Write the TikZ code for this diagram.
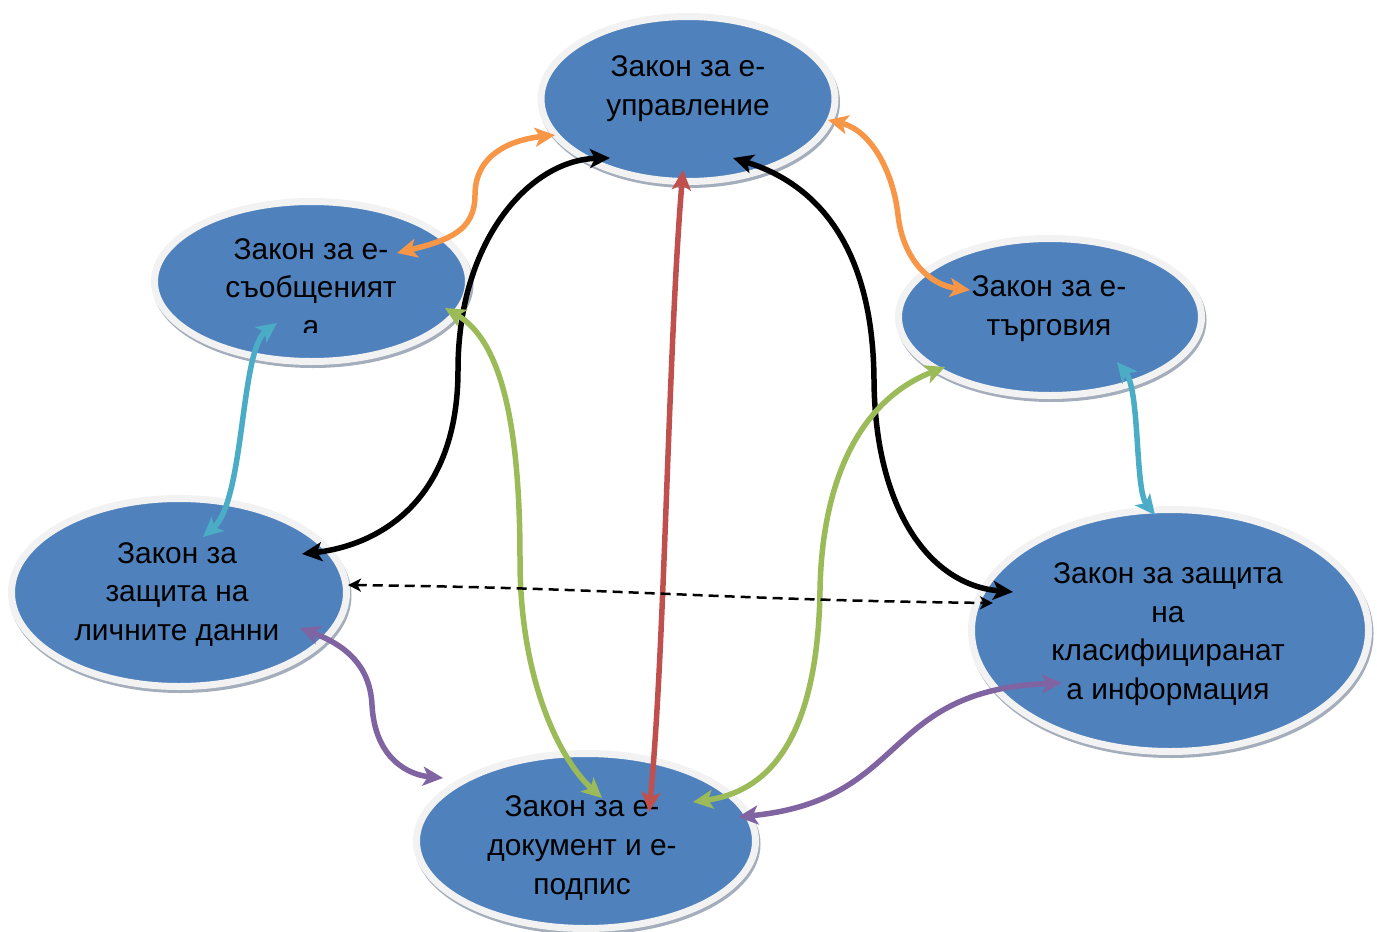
\documentclass[tikz,border=0pt]{standalone}
\usepackage{fontspec}
\setmainfont{Liberation Sans}
\usetikzlibrary{arrows.meta,shapes.geometric,shadows,calc}
\definecolor{lawblue}{HTML}{4F81BD}
\definecolor{rimgray}{HTML}{F2F2F2}
\definecolor{rimshadow}{HTML}{A3ADBB}
\definecolor{linkorange}{HTML}{F79646}
\definecolor{linkred}{HTML}{C0504D}
\definecolor{linkgreen}{HTML}{9BBB59}
\definecolor{linkcyan}{HTML}{4BACC6}
\definecolor{linkpurple}{HTML}{8064A2}
\begin{document}
\begin{tikzpicture}[x=0.2mm,y=-0.2mm,
  law/.style={ellipse,inner sep=0pt,fill=lawblue,draw=rimgray,line width=1.4mm,
    drop shadow={shadow xshift=0.3mm,shadow yshift=-0.6mm,fill=rimshadow,draw=rimshadow,line width=1.4mm,opacity=1}},
  lawtext/.style={align=center,inner sep=0pt,font=\fontsize{17}{22}\selectfont},
  link/.style={line width=1.1mm,{Stealth[length=4mm,width=3.8mm,inset=1mm]}-{Stealth[length=4mm,width=3.8mm,inset=1mm]}},
  dashlink/.style={line width=0.5mm,dash pattern=on 2mm off 1.2mm,{Stealth[length=2.6mm,width=2.6mm,inset=0.7mm]}-{Stealth[length=2.6mm,width=2.6mm,inset=0.7mm]}}]
\useasboundingbox (0,0) rectangle (1377,932);
\foreach \n/\x/\y/\w/\h in {gov/688/99/58.8/33, msg/311.5/281.5/62.8/32, trade/1050/317/60.6/31.4,
  pers/179/592.5/67/37.6, clas/1170/630.5/79.4/48.4, doc/586/841/67.8/35}
  \node[law,minimum width=\w mm,minimum height=\h mm] (\n) at (\x,\y) {};
\node[lawtext] (govtext) at (688,89) {Закон за е-\\управление};
\begin{scope}
\clip (150,200) rectangle (470,332);
\node[lawtext] (msgtext) at (311,287.5) {Закон за е-\\съобщеният\\а};
\end{scope}
\node[lawtext] (tradetext) at (1049,308.5) {Закон за е-\\търговия};
\node[lawtext] (perstext) at (177,594.5) {Закон за\\защита на\\личните данни};
\node[lawtext] (clastext) at (1168,634) {Закон за защита\\на\\класифициранат\\а информация};
\node[lawtext] (doctext) at (582,848) {Закон за е-\\документ и е-\\подпис};
\draw[link,linkorange] ($(msg)+(85.5,-28.5)$) .. controls (450,240) and (475,230) .. (475,195) .. controls (475,155) and (510,140) .. ($(gov)+(-133,36)$);
\draw[link,linkorange] ($(gov)+(140,21)$) .. controls (870,130) and (893,170) .. (898,215) .. controls (903,260) and (930,285) .. ($(trade)+(-80,-27)$);
\draw[link,black] ($(gov)+(-78,59)$) .. controls (530,160) and (458,240) .. (458,370) .. controls (458,500) and (380,545) .. ($(pers)+(123,-38.5)$);
\draw[link,black] ($(gov)+(45,59)$) .. controls (820,185) and (873,250) .. (874,380) .. controls (875,510) and (930,585) .. ($(clas)+(-157,-38.5)$);
\draw[link,linkred] ($(gov)+(-5,71)$) .. controls (668,350) and (665,650) .. ($(doc)+(63,-29)$);
\draw[link,linkgreen] ($(msg)+(133.5,26.5)$) .. controls (500,340) and (520,420) .. (520,560) .. controls (520,680) and (560,760) .. ($(doc)+(16,-43)$);
\draw[link,linkgreen] ($(trade)+(-105,50)$) .. controls (860,400) and (822,480) .. (820,590) .. controls (818,720) and (780,790) .. ($(doc)+(107,-39)$);
\draw[link,linkcyan] ($(msg)+(-34.5,41.5)$) .. controls (240,350) and (245,500) .. ($(pers)+(24,-55.5)$);
\draw[link,linkcyan] ($(trade)+(67,45)$) .. controls (1140,390) and (1135,490) .. ($(clas)+(-15,-115.5)$);
\draw[link,linkpurple] ($(pers)+(121,35.5)$) .. controls (345,645) and (370,665) .. (372,705) .. controls (375,760) and (410,775) .. ($(doc)+(-143,-63)$);
\draw[link,linkpurple] ($(doc)+(152,-24)$) .. controls (910,800) and (880,690) .. ($(clas)+(-108,52.5)$);
\draw[dashlink] ($(pers)+(169,-7.5)$) .. controls (620,588) and (720,600) .. ($(clas)+(-177,-27.5)$);
\end{tikzpicture}
\end{document}
